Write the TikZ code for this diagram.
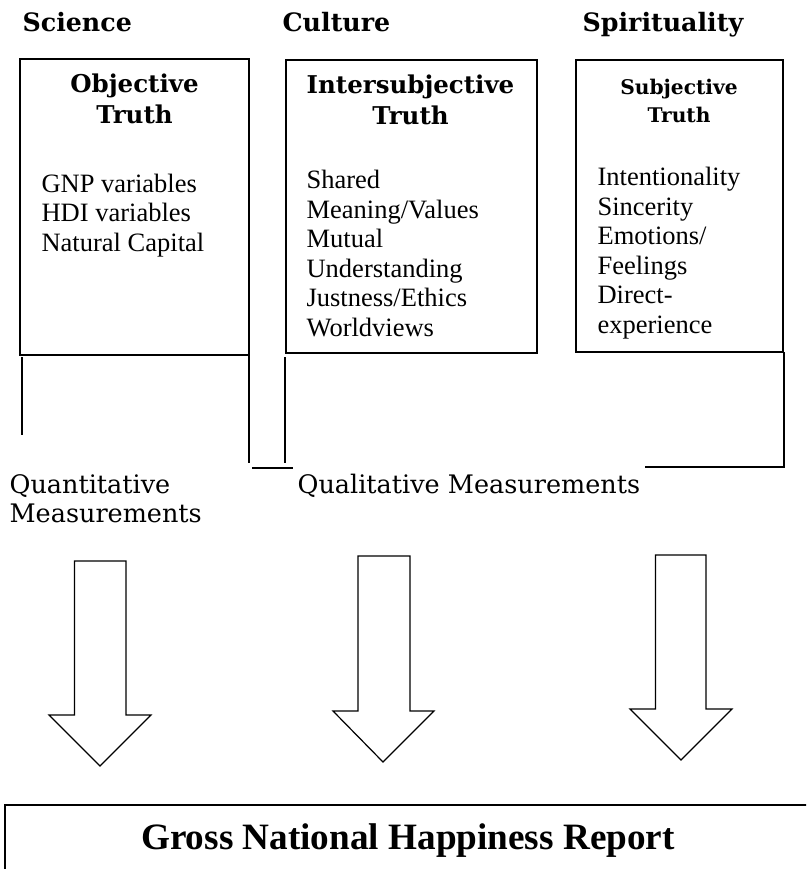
\documentclass[tikz,border=0pt]{standalone}
\usepackage{fontspec}
\setmainfont{Liberation Serif}
\newfontfamily\headfont{DejaVu Serif}
\tikzset{
  heading/.style={anchor=base west, inner sep=0pt, font=\headfont\bfseries\fontsize{25.3}{28}\selectfont},
  boxtitle/.style={anchor=base, inner sep=0pt, align=center, font=\headfont\bfseries\fontsize{24.5}{31}\selectfont},
  boxtext/.style={anchor=base west, inner sep=0pt, align=left, font=\fontsize{26.5}{29.5}\selectfont},
  measure/.style={anchor=base west, inner sep=0pt, align=left, font=\headfont\fontsize{25.5}{29}\selectfont},
}
\begin{document}
\begin{tikzpicture}[x=1pt,y=-1pt,line width=1.2pt]
                \fill[white] (0,0) rectangle (806,869);
                \clip (0,0) rectangle (806,869);
                % headings
                \node[heading] (science) at (22,32) {Science};
                \node[heading] (culture) at (282,32) {Culture};
                \node[heading] (spirit) at (582,32) {Spirituality};
                % the three truths
                \draw (20,59) rectangle (249,355);
                \draw (286,60) rectangle (537,353);
                \draw (576,60) rectangle (783,352);
                \node[boxtitle] (objective) at (134.5,124) {Objective\\Truth};
                \node[boxtitle] (intersub) at (410.5,125) {Intersubjective\\Truth};
                \node[boxtitle,font=\headfont\bfseries\fontsize{20.2}{28}\selectfont] (subjective) at (679,123) {Subjective\\Truth};
                \node[boxtext] (objlist) at (41,251) {GNP variables\\HDI variables\\Natural Capital};
                \node[boxtext] (interlist) at (306,336) {Shared\\Meaning/Values\\Mutual\\Understanding\\Justness/Ethics\\Worldviews};
                \node[boxtext] (sublist) at (597,333) {Intentionality\\Sincerity\\Emotions/\\Feelings\\Direct-\\experience};
                % brackets
                \draw (22,357) -- (22,435);
                \draw (249,355) -- (249,463);
                \draw (285,357) -- (285,463);
                \draw (252,468) -- (293,468);
                \draw (784,352) -- (784,467) -- (645,467);
                \node[measure] (quant) at (9,522) {Quantitative\\Measurements};
                \node[measure] (qual) at (297,493) {Qualitative Measurements};
                % arrows
                \draw (74.5,561) -- (126,561) -- (126,715) -- (151,715) -- (100,766) -- (49,715) -- (74.5,715) -- cycle;
                \draw (358,556) -- (410,556) -- (410,711) -- (434,711) -- (383,762) -- (333,711) -- (358,711) -- cycle;
                \draw (655.5,555) -- (706,555) -- (706,709) -- (732,709) -- (681,760) -- (630,709) -- (655.5,709) -- cycle;
                % report
                \draw (5,805) rectangle (830,900);
                \node[anchor=base,inner sep=0pt,font=\bfseries\fontsize{37.2}{40}\selectfont] (report) at (408,849) {Gross National Happiness Report};
            \end{tikzpicture}
\end{document}
